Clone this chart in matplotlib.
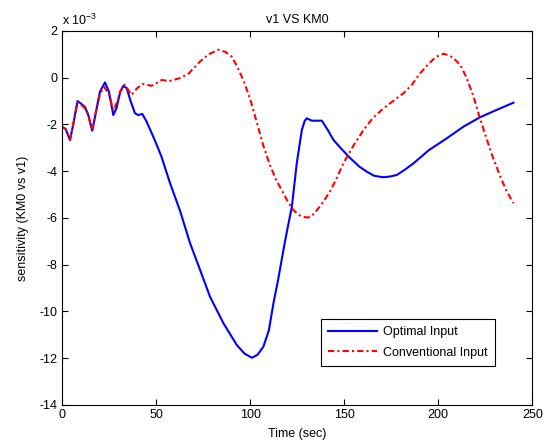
import matplotlib
matplotlib.use("Agg")
import matplotlib.pyplot as plt

plt.rcParams['font.family'] = ['Liberation Sans', 'DejaVu Sans']
plt.rcParams['mathtext.fontset'] = 'custom'
plt.rcParams['mathtext.rm'] = 'Liberation Sans'
plt.rcParams['mathtext.it'] = 'Liberation Sans'
plt.rcParams['axes.unicode_minus'] = False

# Data (values in units of 1e-3)
t_opt = [0, 2, 4.3, 6, 8.3, 10, 12.2, 14, 16.1, 18, 20.2, 22.9, 25, 27.3, 29, 31,
         32.6, 34.4, 36.5, 38.8, 40.5, 42.7, 45, 47.7, 50, 53, 57.4, 62.8, 68.1,
         73.4, 78.7, 85.8, 92.9, 97, 100.9, 104, 107.1, 110, 112.4, 115, 117.7,
         120, 122.2, 124.8, 127.5, 129, 130.1, 132.8, 136, 138.1, 141, 144.3, 148,
         153.2, 158, 162, 166, 170.9, 175, 178, 182, 186.9, 195, 204.6, 213.5,
         222.3, 231, 240]
y_opt = [-2.1, -2.2, -2.67, -2.0, -1.0, -1.1, -1.25, -1.6, -2.27, -1.5, -0.6, -0.2,
         -0.6, -1.6, -1.3, -0.6, -0.35, -0.45, -1.0, -1.52, -1.6, -1.55, -1.88,
         -2.37, -2.8, -3.4, -4.5, -5.7, -7.08, -8.22, -9.37, -10.5, -11.43, -11.8,
         -11.98, -11.85, -11.5, -10.8, -9.65, -8.6, -7.37, -6.4, -5.52, -3.66,
         -2.24, -1.85, -1.74, -1.84, -1.84, -1.84, -2.2, -2.66, -3.0, -3.44, -3.8,
         -4.02, -4.2, -4.26, -4.22, -4.16, -3.95, -3.66, -3.1, -2.59, -2.09, -1.69,
         -1.38, -1.07]

t_conv = [0, 2, 4.3, 6, 8.3, 10, 12.2, 14, 16.1, 18, 20.2, 22.5, 25, 27.3, 29, 31,
          33.3, 35, 37, 40, 42.7, 45, 47.7, 50, 53, 57, 60, 62.8, 67, 73.4, 78,
          83.1, 87, 90.2, 93, 96.4, 100, 103.5, 107, 110.6, 114, 117.7, 120, 123,
          126, 129.3, 131, 133, 136.3, 139, 143, 146, 149.6, 155, 160.3, 165,
          170.9, 176, 181.5, 186, 190.4, 195, 199, 202.8, 206, 208.5, 211.7, 215,
          218.8, 222, 225.9, 229, 233, 236, 240]
y_conv = [-2.1, -2.2, -2.65, -2.0, -1.05, -1.15, -1.3, -1.6, -2.25, -1.5, -0.7,
          -0.4, -0.7, -1.4, -1.1, -0.6, -0.3, -0.5, -0.74, -0.45, -0.27, -0.3,
          -0.35, -0.25, -0.1, -0.15, -0.08, -0.02, 0.15, 0.69, 1.0, 1.19, 1.1, 0.9,
          0.5, -0.1, -0.9, -1.9, -2.9, -3.75, -4.4, -4.94, -5.3, -5.66, -5.88,
          -5.97, -5.98, -5.9, -5.59, -5.3, -4.8, -4.3, -3.66, -2.9, -2.24, -1.75,
          -1.31, -1.0, -0.67, -0.3, 0.19, 0.6, 0.9, 1.02, 0.95, 0.8, 0.55, 0.0,
          -0.81, -1.7, -2.66, -3.4, -4.23, -4.8, -5.37]

x_ticks = [0, 50, 100, 150, 200, 250]
y_ticks = [2, 0, -2, -4, -6, -8, -10, -12, -14]

fs = 9

fig = plt.figure(figsize=(5.58, 4.48), dpi=100)
ax = fig.add_axes([0.111, 0.096, 0.843, 0.835])

ax.plot(t_opt, y_opt, color='#0000ff', lw=1.5, label='Optimal Input')
ax.plot(t_conv, y_conv, color='#ff0000', lw=1.5, dashes=[3, 1.5, 1, 1.5],
        label='Conventional Input')

ax.set_xlim(0, 250)
ax.set_ylim(-14, 2)
ax.set_xticks(x_ticks)
ax.set_yticks(y_ticks)
ax.tick_params(direction='in', top=True, right=True, length=4, width=0.8,
               labelsize=fs, pad=3)
for s in ax.spines.values():
    s.set_linewidth(0.8)

ax.set_title('v1 VS KM0', fontsize=fs, pad=6)
ax.set_xlabel('Time (sec)', fontsize=fs, labelpad=5)
ax.set_ylabel('sensitivity (KM0 vs v1)', fontsize=fs, labelpad=8)
ax.text(0.0, 1.008, r'x 10$^{-3}$', transform=ax.transAxes, fontsize=fs,
        ha='left', va='bottom')

leg = ax.legend(loc='lower right', bbox_to_anchor=(0.921, 0.104), fontsize=fs,
                fancybox=False, framealpha=1, edgecolor='black',
                handlelength=3.9, handletextpad=0.5, borderpad=0.6,
                labelspacing=0.65, borderaxespad=0)
leg.get_frame().set_linewidth(0.8)

fig.savefig('out.png', dpi=100)
